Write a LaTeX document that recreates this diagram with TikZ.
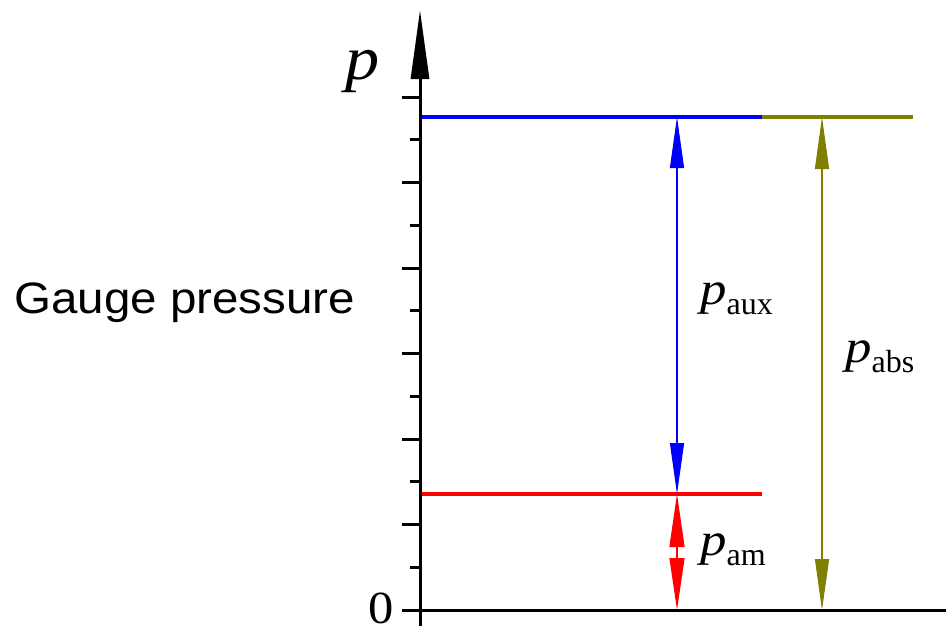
\documentclass[tikz,border=0pt]{standalone}
\usepackage{fontspec}
\setmainfont{Liberation Serif}
\newfontfamily\gsans{Liberation Sans}
\usepackage{graphicx}
\usetikzlibrary{arrows.meta}
\definecolor{olivec}{RGB}{128,128,0}
\tikzset{
  tick/.style={line width=3pt},
  level/.style={line width=3.5pt},
  dim/.style={line width=1.2pt},
  lbl/.style={inner sep=0pt, anchor=base west},
}
\newcommand{\plabel}[1]{\scalebox{1.2}[1.05]{\fontsize{44}{44}\selectfont\textit{p}}\raisebox{-10pt}{\fontsize{32}{32}\selectfont #1}}
\begin{document}
\begin{tikzpicture}[x=1pt,y=-1pt]
\useasboundingbox (0,0) rectangle (946,629);
% coordinates
\coordinate (axB) at (420,626);
\coordinate (axT) at (420,10);
\coordinate (zL) at (402,610);
\coordinate (zR) at (946,610);
\coordinate (bL) at (420,117);
\coordinate (bR) at (762,117);
\coordinate (oR) at (913,117);
\coordinate (rL) at (420,494);
\coordinate (rR) at (762,494);
\coordinate (a1T) at (677,117);
\coordinate (a1B) at (677,494);
\coordinate (a2B) at (677,610);
\coordinate (a3T) at (822,117);
\coordinate (a3B) at (822,610);
% ticks
\foreach \k in {1,...,12}{
  \pgfmathsetmacro{\yy}{610-\k*42.75}
  \pgfmathsetmacro{\xx}{ifthenelse(mod(\k,2)==0,402,410)}
  \draw[tick] (\xx,\yy) -- (420,\yy);
}
% levels
\draw[level,blue] (bL) -- (bR);
\draw[level,olivec] (bR) -- (oR);
\draw[level,red] (rL) -- (rR);
\draw[tick] (zL) -- (zR);
% axis
\draw[line width=3pt,-{Triangle[length=69pt,width=18pt]}] (axB) -- (axT);
% dimension arrows
\draw[dim,blue,{Triangle[length=51pt,width=14pt]}-{Triangle[length=51pt,width=14pt]}] (a1T) -- (a1B);
\draw[dim,red,{Triangle[length=53pt,width=15pt]}-{Triangle[length=52pt,width=15pt]}] (a1B) -- (a2B);
\draw[dim,olivec,{Triangle[length=52pt,width=14pt]}-{Triangle[length=51pt,width=14pt]}] (a3T) -- (a3B);
% labels
\node[lbl] (pax) at (345,79) {\scalebox{1.1}[1]{\fontsize{62}{62}\selectfont\textit{p}}};
\node[inner sep=0pt, anchor=base east] (zero) at (394,623) {\scalebox{1.1}[1]{\fontsize{46}{46}\selectfont 0}};
\node[lbl] (gp) at (14,313) {\scalebox{1.08}[1]{\gsans\fontsize{44}{44}\selectfont Gauge pressure}};
\node[lbl] (paux) at (700,304) {\plabel{aux}};
\node[lbl] (pabs) at (845,362) {\plabel{abs}};
\node[lbl] (pam) at (700,555) {\plabel{am}};
\end{tikzpicture}
\end{document}
